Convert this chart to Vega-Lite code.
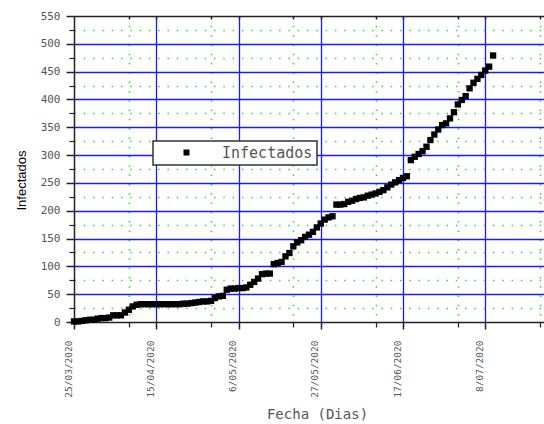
{
  "$schema": "https://vega.github.io/schema/vega-lite/v6.json",
  "width": 470,
  "height": 306,
  "autosize": {"type": "none"},
  "padding": {"left": 74, "top": 16, "right": 0, "bottom": 102},
  "background": "white",
  "config": {
    "view": {"stroke": null},
    "axis": {"domainColor": "#222222", "domainWidth": 1.5, "tickColor": "#222222", "tickWidth": 1.5},
    "legend": {"strokeColor": "#333333", "strokeWidth": 1.5, "fillColor": "white", "cornerRadius": 0, "padding": 4}
  },
  "data": {
    "values": [
      {"fecha": "2020-03-25", "infectados": 1},
      {"fecha": "2020-03-26", "infectados": 1},
      {"fecha": "2020-03-27", "infectados": 2},
      {"fecha": "2020-03-28", "infectados": 3},
      {"fecha": "2020-03-29", "infectados": 4},
      {"fecha": "2020-03-30", "infectados": 4},
      {"fecha": "2020-03-31", "infectados": 6},
      {"fecha": "2020-04-01", "infectados": 7},
      {"fecha": "2020-04-02", "infectados": 7},
      {"fecha": "2020-04-03", "infectados": 8},
      {"fecha": "2020-04-04", "infectados": 12},
      {"fecha": "2020-04-05", "infectados": 12},
      {"fecha": "2020-04-06", "infectados": 12},
      {"fecha": "2020-04-07", "infectados": 17},
      {"fecha": "2020-04-08", "infectados": 22},
      {"fecha": "2020-04-09", "infectados": 28},
      {"fecha": "2020-04-10", "infectados": 31},
      {"fecha": "2020-04-11", "infectados": 32},
      {"fecha": "2020-04-12", "infectados": 32},
      {"fecha": "2020-04-13", "infectados": 32},
      {"fecha": "2020-04-14", "infectados": 32},
      {"fecha": "2020-04-15", "infectados": 32},
      {"fecha": "2020-04-16", "infectados": 32},
      {"fecha": "2020-04-17", "infectados": 32},
      {"fecha": "2020-04-18", "infectados": 32},
      {"fecha": "2020-04-19", "infectados": 32},
      {"fecha": "2020-04-20", "infectados": 32},
      {"fecha": "2020-04-21", "infectados": 32},
      {"fecha": "2020-04-22", "infectados": 33},
      {"fecha": "2020-04-23", "infectados": 33},
      {"fecha": "2020-04-24", "infectados": 34},
      {"fecha": "2020-04-25", "infectados": 35},
      {"fecha": "2020-04-26", "infectados": 36},
      {"fecha": "2020-04-27", "infectados": 37},
      {"fecha": "2020-04-28", "infectados": 37},
      {"fecha": "2020-04-29", "infectados": 38},
      {"fecha": "2020-04-30", "infectados": 43},
      {"fecha": "2020-05-01", "infectados": 46},
      {"fecha": "2020-05-02", "infectados": 47},
      {"fecha": "2020-05-03", "infectados": 58},
      {"fecha": "2020-05-04", "infectados": 60},
      {"fecha": "2020-05-05", "infectados": 60},
      {"fecha": "2020-05-06", "infectados": 61},
      {"fecha": "2020-05-07", "infectados": 61},
      {"fecha": "2020-05-08", "infectados": 62},
      {"fecha": "2020-05-09", "infectados": 67},
      {"fecha": "2020-05-10", "infectados": 72},
      {"fecha": "2020-05-11", "infectados": 78},
      {"fecha": "2020-05-12", "infectados": 86},
      {"fecha": "2020-05-13", "infectados": 87},
      {"fecha": "2020-05-14", "infectados": 87},
      {"fecha": "2020-05-15", "infectados": 104},
      {"fecha": "2020-05-16", "infectados": 106},
      {"fecha": "2020-05-17", "infectados": 108},
      {"fecha": "2020-05-18", "infectados": 118},
      {"fecha": "2020-05-19", "infectados": 124},
      {"fecha": "2020-05-20", "infectados": 136},
      {"fecha": "2020-05-21", "infectados": 143},
      {"fecha": "2020-05-22", "infectados": 147},
      {"fecha": "2020-05-23", "infectados": 153},
      {"fecha": "2020-05-24", "infectados": 157},
      {"fecha": "2020-05-25", "infectados": 162},
      {"fecha": "2020-05-26", "infectados": 170},
      {"fecha": "2020-05-27", "infectados": 177},
      {"fecha": "2020-05-28", "infectados": 184},
      {"fecha": "2020-05-29", "infectados": 188},
      {"fecha": "2020-05-30", "infectados": 190},
      {"fecha": "2020-05-31", "infectados": 211},
      {"fecha": "2020-06-01", "infectados": 211},
      {"fecha": "2020-06-02", "infectados": 212},
      {"fecha": "2020-06-03", "infectados": 216},
      {"fecha": "2020-06-04", "infectados": 218},
      {"fecha": "2020-06-05", "infectados": 221},
      {"fecha": "2020-06-06", "infectados": 223},
      {"fecha": "2020-06-07", "infectados": 224},
      {"fecha": "2020-06-08", "infectados": 227},
      {"fecha": "2020-06-09", "infectados": 229},
      {"fecha": "2020-06-10", "infectados": 231},
      {"fecha": "2020-06-11", "infectados": 234},
      {"fecha": "2020-06-12", "infectados": 237},
      {"fecha": "2020-06-13", "infectados": 242},
      {"fecha": "2020-06-14", "infectados": 247},
      {"fecha": "2020-06-15", "infectados": 251},
      {"fecha": "2020-06-16", "infectados": 255},
      {"fecha": "2020-06-17", "infectados": 259},
      {"fecha": "2020-06-18", "infectados": 262},
      {"fecha": "2020-06-19", "infectados": 291},
      {"fecha": "2020-06-20", "infectados": 297},
      {"fecha": "2020-06-21", "infectados": 302},
      {"fecha": "2020-06-22", "infectados": 307},
      {"fecha": "2020-06-23", "infectados": 315},
      {"fecha": "2020-06-24", "infectados": 327},
      {"fecha": "2020-06-25", "infectados": 337},
      {"fecha": "2020-06-26", "infectados": 346},
      {"fecha": "2020-06-27", "infectados": 354},
      {"fecha": "2020-06-28", "infectados": 357},
      {"fecha": "2020-06-29", "infectados": 366},
      {"fecha": "2020-06-30", "infectados": 377},
      {"fecha": "2020-07-01", "infectados": 391},
      {"fecha": "2020-07-02", "infectados": 399},
      {"fecha": "2020-07-03", "infectados": 406},
      {"fecha": "2020-07-04", "infectados": 420},
      {"fecha": "2020-07-05", "infectados": 430},
      {"fecha": "2020-07-06", "infectados": 437},
      {"fecha": "2020-07-07", "infectados": 444},
      {"fecha": "2020-07-08", "infectados": 452},
      {"fecha": "2020-07-09", "infectados": 459},
      {"fecha": "2020-07-10", "infectados": 479}
    ]
  },
  "layer": [
    {
      "mark": {"type": "point", "opacity": 0},
      "encoding": {
        "x": {
          "field": "fecha", "type": "temporal",
          "scale": {"type": "utc", "domain": [{"year": 2020, "month": 3, "date": 25, "utc": true}, {"year": 2020, "month": 7, "date": 23, "utc": true}]},
          "axis": {
            "orient": "bottom", "title": null, "labels": false, "domain": false,
            "values": [
              {"year": 2020, "month": 4, "date": 8, "utc": true},
              {"year": 2020, "month": 4, "date": 29, "utc": true},
              {"year": 2020, "month": 5, "date": 20, "utc": true},
              {"year": 2020, "month": 6, "date": 10, "utc": true},
              {"year": 2020, "month": 7, "date": 1, "utc": true},
              {"year": 2020, "month": 7, "date": 22, "utc": true}
            ],
            "tickSize": 5, "tickWidth": 1.2,
            "grid": true, "gridColor": "#2fe02f", "gridWidth": 1.6, "gridDash": [1.5, 7.8]
          }
        },
        "y": {
          "field": "infectados", "type": "quantitative",
          "scale": {"domain": [0, 550], "nice": false},
          "axis": {
            "orient": "left", "title": null, "labels": false, "domain": false,
            "values": [25, 75, 125, 175, 225, 275, 325, 375, 425, 475, 525],
            "tickSize": 5, "tickWidth": 1.2,
            "grid": true, "gridColor": "#2fe02f", "gridWidth": 1.6, "gridDash": [1.5, 7.8]
          }
        }
      }
    },
    {
      "mark": {"type": "square", "size": 40, "color": "#000000", "opacity": 1, "filled": true},
      "encoding": {
        "x": {
          "field": "fecha", "type": "temporal",
          "scale": {"type": "utc", "domain": [{"year": 2020, "month": 3, "date": 25, "utc": true}, {"year": 2020, "month": 7, "date": 23, "utc": true}]},
          "axis": {
            "orient": "bottom",
            "values": [
              {"year": 2020, "month": 3, "date": 25, "utc": true},
              {"year": 2020, "month": 4, "date": 15, "utc": true},
              {"year": 2020, "month": 5, "date": 6, "utc": true},
              {"year": 2020, "month": 5, "date": 27, "utc": true},
              {"year": 2020, "month": 6, "date": 17, "utc": true},
              {"year": 2020, "month": 7, "date": 8, "utc": true}
            ],
            "labelExpr": "utcFormat(datum.value, '%-d/%m/%Y')",
            "labelAngle": 270, "labelAlign": "right", "labelBaseline": "middle",
            "labelFlush": false, "labelOverlap": false, "labelBound": false,
            "labelFont": "DejaVu Sans Mono", "labelFontSize": 9.5, "labelColor": "#555555",
            "labelPadding": 11, "labelOffset": -6,
            "tickSize": 7,
            "grid": true, "gridColor": "#1a1aff", "gridWidth": 1.3,
            "gridOpacity": {"condition": {"test": "datum.value < utc(2020, 2, 26)", "value": 0}, "value": 1},
            "title": "Fecha (Dias)",
            "titleFont": "DejaVu Sans Mono", "titleFontSize": 14, "titleFontWeight": "normal", "titleColor": "#555555",
            "titleX": 243, "titleY": 96, "titleAlign": "center", "titleBaseline": "alphabetic"
          }
        },
        "y": {
          "field": "infectados", "type": "quantitative",
          "scale": {"domain": [0, 550], "nice": false},
          "axis": {
            "orient": "left",
            "values": [0, 50, 100, 150, 200, 250, 300, 350, 400, 450, 500, 550],
            "labelFont": "DejaVu Sans Mono", "labelFontSize": 11, "labelColor": "#555555",
            "labelPadding": 6, "tickSize": 8,
            "grid": true, "gridColor": "#1a1aff", "gridWidth": 1.3,
            "gridOpacity": {"condition": {"test": "datum.value == 0 || datum.value == 550", "value": 0}, "value": 1},
            "title": "Infectados",
            "titleFont": "Liberation Sans", "titleFontSize": 13, "titleFontWeight": "normal", "titleColor": "#000000",
            "titleAngle": 270, "titleX": -49, "titleY": 164, "titleAlign": "center", "titleBaseline": "alphabetic"
          }
        },
        "color": {
          "datum": "Infectados",
          "scale": {"range": ["#000000"]},
          "legend": {
            "title": null, "orient": "none", "legendX": 79, "legendY": 125,
            "symbolType": "square", "symbolSize": 36, "symbolStrokeWidth": 0,
            "symbolOffset": 22, "labelOffset": 28,
            "labelFont": "DejaVu Sans Mono", "labelFontSize": 15, "labelColor": "#555555"
          }
        }
      }
    },
    {
      "mark": {"type": "point", "opacity": 0},
      "encoding": {
        "x": {
          "field": "fecha", "type": "temporal",
          "scale": {"type": "utc", "domain": [{"year": 2020, "month": 3, "date": 25, "utc": true}, {"year": 2020, "month": 7, "date": 23, "utc": true}]},
          "axis": {
            "orient": "top", "title": null, "labels": false, "grid": false,
            "values": [
              {"year": 2020, "month": 4, "date": 8, "utc": true},
              {"year": 2020, "month": 4, "date": 15, "utc": true},
              {"year": 2020, "month": 4, "date": 29, "utc": true},
              {"year": 2020, "month": 5, "date": 6, "utc": true},
              {"year": 2020, "month": 5, "date": 20, "utc": true},
              {"year": 2020, "month": 5, "date": 27, "utc": true},
              {"year": 2020, "month": 6, "date": 10, "utc": true},
              {"year": 2020, "month": 6, "date": 17, "utc": true},
              {"year": 2020, "month": 7, "date": 1, "utc": true},
              {"year": 2020, "month": 7, "date": 8, "utc": true},
              {"year": 2020, "month": 7, "date": 22, "utc": true}
            ],
            "tickSize": -3
          }
        },
        "y": {
          "field": "infectados", "type": "quantitative",
          "scale": {"domain": [0, 550], "nice": false},
          "axis": null
        }
      }
    }
  ],
  "resolve": {"axis": {"x": "independent", "y": "independent"}}
}
